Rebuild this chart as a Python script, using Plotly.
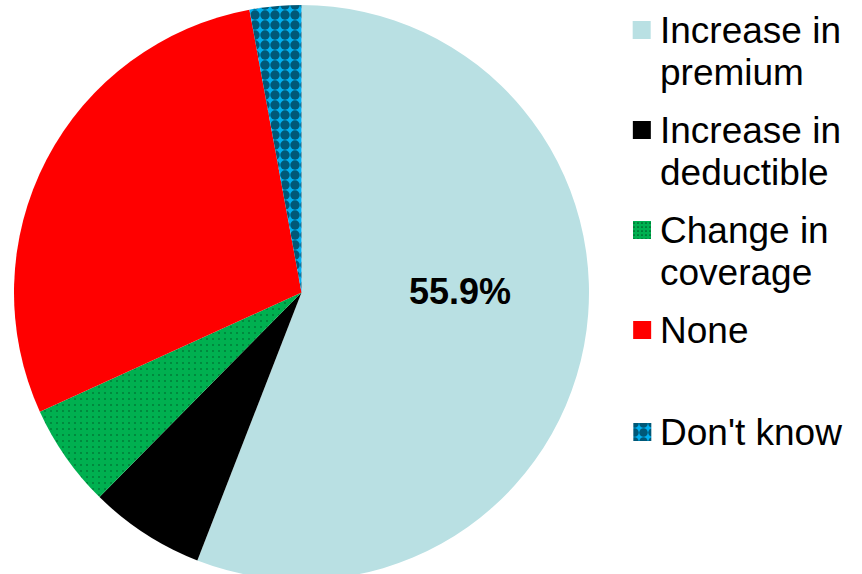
import plotly.graph_objects as go

# slices, clockwise from 12 o'clock
labels = ["Increase in premium", "Increase in deductible", "Change in coverage", "None", "Don't know"]
legend_lines = [["Increase in", "premium"], ["Increase in", "deductible"], ["Change in", "coverage"], ["None"], ["Don't know"]]
values = [55.9, 6.5, 5.8, 28.9, 2.9]

colors = ["#B9E0E3", "#000000", "#00B050", "#FF0000", "#00B0F0"]
pat_shape = ["", "", ".", "", "."]
pat_fg = ["#B9E0E3", "#000000", "#000000", "#FF0000", "#000000"]
pat_size = [8, 8, 6, 8, 10]
pat_solid = [0.3, 0.3, 0.06, 0.3, 0.7]

FONT = "Liberation Sans, Arial, sans-serif"
W, H, TOP = 862, 580, 5   # figure runs a little past the window bottom, like the original

fig = go.Figure()
fig.add_trace(go.Pie(
    labels=labels,
    values=values,
    textinfo="none",
    sort=False,
    direction="clockwise",
    rotation=0,
    marker=dict(
        colors=colors,
        line=dict(width=0),
        pattern=dict(shape=pat_shape, bgcolor=colors, fgcolor=pat_fg,
                     size=pat_size, solidity=pat_solid, fillmode="overlay"),
    ),
    domain=dict(x=[14 / W, 589 / W], y=[0, 1]),
    hoverinfo="label+percent",
    showlegend=False,
))

# legend drawn by hand on a pixel-sized hidden axis (tight line spacing of the original)
item_y = [30, 130, 230, 330, 432]
line_gap = 42
for i, lines in enumerate(legend_lines):
    fig.add_trace(go.Bar(
        x=[642], y=[18], base=[item_y[i] - 9], width=[18],
        marker=dict(color=colors[i], line=dict(width=0),
                    pattern=dict(shape=pat_shape[i], bgcolor=colors[i], fgcolor=pat_fg[i],
                                 size=[4, 4, 4, 4, 9][i], solidity=[0.3, 0.3, 0.15, 0.3, 0.7][i],
                                 fillmode="overlay")),
        hoverinfo="skip", showlegend=False,
    ))
    for k, line in enumerate(lines):
        fig.add_annotation(x=658, y=item_y[i] + k * line_gap, xref="x", yref="y",
                           text=line, showarrow=False, xanchor="left", yanchor="middle",
                           font=dict(family=FONT, size=37, color="black"))

# data label of the largest slice
fig.add_annotation(x=460, y=291, xref="x", yref="y", text=f"{values[0]}%", showarrow=False,
                   xanchor="center", yanchor="middle",
                   font=dict(family=FONT, size=36, color="black", weight="bold"))

fig.update_layout(
    width=W, height=H,
    margin=dict(l=0, r=0, t=TOP, b=0),
    paper_bgcolor="white",
    plot_bgcolor="rgba(0,0,0,0)",
    showlegend=False,
    xaxis=dict(range=[0, W], visible=False, fixedrange=True),
    yaxis=dict(range=[H, TOP], visible=False, fixedrange=True),
)

fig.write_html(
    "out.html",
    config={"displayModeBar": False},
    post_script="document.body.style.margin='0';"
                "document.body.style.overflow='hidden';"
                "document.documentElement.style.overflow='hidden';",
)
